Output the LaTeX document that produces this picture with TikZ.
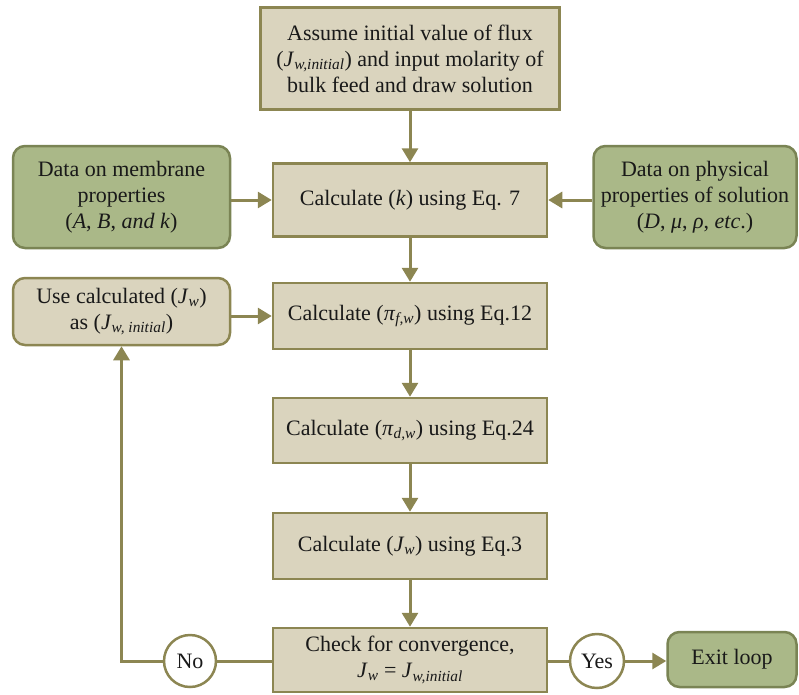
\documentclass[tikz,border=0pt]{standalone}
\usepackage{fontspec}
\setmainfont{LiberationSerif}[Extension=.ttf, UprightFont=*-Regular, ItalicFont=*-Italic, BoldFont=*-Bold, BoldItalicFont=*-BoldItalic]
\usetikzlibrary{arrows.meta}
\definecolor{beige}{RGB}{218,212,190}
\definecolor{olive}{RGB}{140,134,82}
\definecolor{sage}{RGB}{170,184,136}
\definecolor{sageline}{RGB}{122,132,84}
\newcommand{\vi}[1]{\textit{#1}}
\newcommand{\sbi}[1]{\textsubscript{\textit{#1}}}
\begin{document}
\begin{tikzpicture}[x=1pt,y=-1pt,
  every node/.style={font=\fontsize{22}{26}\selectfont, align=center, inner sep=0pt, text=black!90},
  calcbox/.style={draw=olive, fill=beige, line width=2.5pt, minimum width=274pt},
  databox/.style={draw=sageline, fill=sage, line width=2.5pt, rounded corners=12pt},
  usebox/.style={draw=olive, fill=beige, line width=2.5pt, rounded corners=12pt},
  decision/.style={draw=olive, fill=white, line width=2.5pt, circle},
  conn/.style={draw=olive, line width=3pt},
  arr/.style={conn, -{Triangle[length=14pt,width=16pt]}}]
\useasboundingbox (0,0) rectangle (799,694);

\node[calcbox, minimum width=299pt, minimum height=102pt] (b1) at (410,58.5)
  {Assume initial value of flux\\(\vi{J}\sbi{w,initial}) and input molarity of\\bulk feed and draw solution};
\node[calcbox, minimum height=73pt] (b2) at (410,200) {Calculate (\vi{k}) using Eq. 7};
\node[calcbox, minimum height=66pt] (b3) at (410,316) {Calculate (\vi{π}\sbi{f,w}) using Eq.12};
\node[calcbox, minimum height=65pt] (b4) at (410,430.5) {Calculate (\vi{π}\sbi{d,w}) using Eq.24};
\node[calcbox, minimum height=66pt] (b5) at (410,546) {Calculate (\vi{J}\sbi{w}) using Eq.3};
\node[calcbox, minimum height=64pt] (b6) at (410,660) {Check for convergence,\\\vi{J}\sbi{w} = \vi{J}\sbi{w,initial}};

\node[databox, minimum width=217pt, minimum height=102pt] (gL) at (121.5,197)
  {Data on membrane\\properties\\(\vi{A}, \vi{B}, \vi{and k})};
\node[databox, minimum width=203pt, minimum height=102pt] (gR) at (695,197)
  {Data on physical\\properties of solution\\(\vi{D}, \vi{μ}, \vi{ρ}, \vi{etc}.)};
\node[usebox, minimum width=217pt, minimum height=67pt] (uc) at (121.5,311.5)
  {Use calculated (\vi{J}\sbi{w})\\as (\vi{J}\sbi{w, initial})};

\node[decision, minimum size=52pt] (no) at (190,661) {No};
\node[decision, minimum size=54pt] (yes) at (597,661) {Yes};
\node[databox, minimum width=129pt, minimum height=55pt] (ex) at (732,659.5) {Exit loop};

\draw[arr] (b1) -- (b2);
\draw[arr] (b2) -- (b3);
\draw[arr] (b3) -- (b4);
\draw[arr] (b4) -- (b5);
\draw[arr] (b5) -- (b6);
\draw[arr] (gL.east |- b2) -- (b2.west);
\draw[arr] (gR.west |- b2) -- (b2.east);
\draw[arr] (uc.east |- b3) -- (b3.west);
\draw[conn] (b6.west |- no) -- (no.east);
\draw[arr] (no.west) -| (uc.south);
\draw[conn] (b6.east |- yes) -- (yes.west);
\draw[arr] (yes.east) -- (ex.west |- yes);
\end{tikzpicture}
\end{document}
